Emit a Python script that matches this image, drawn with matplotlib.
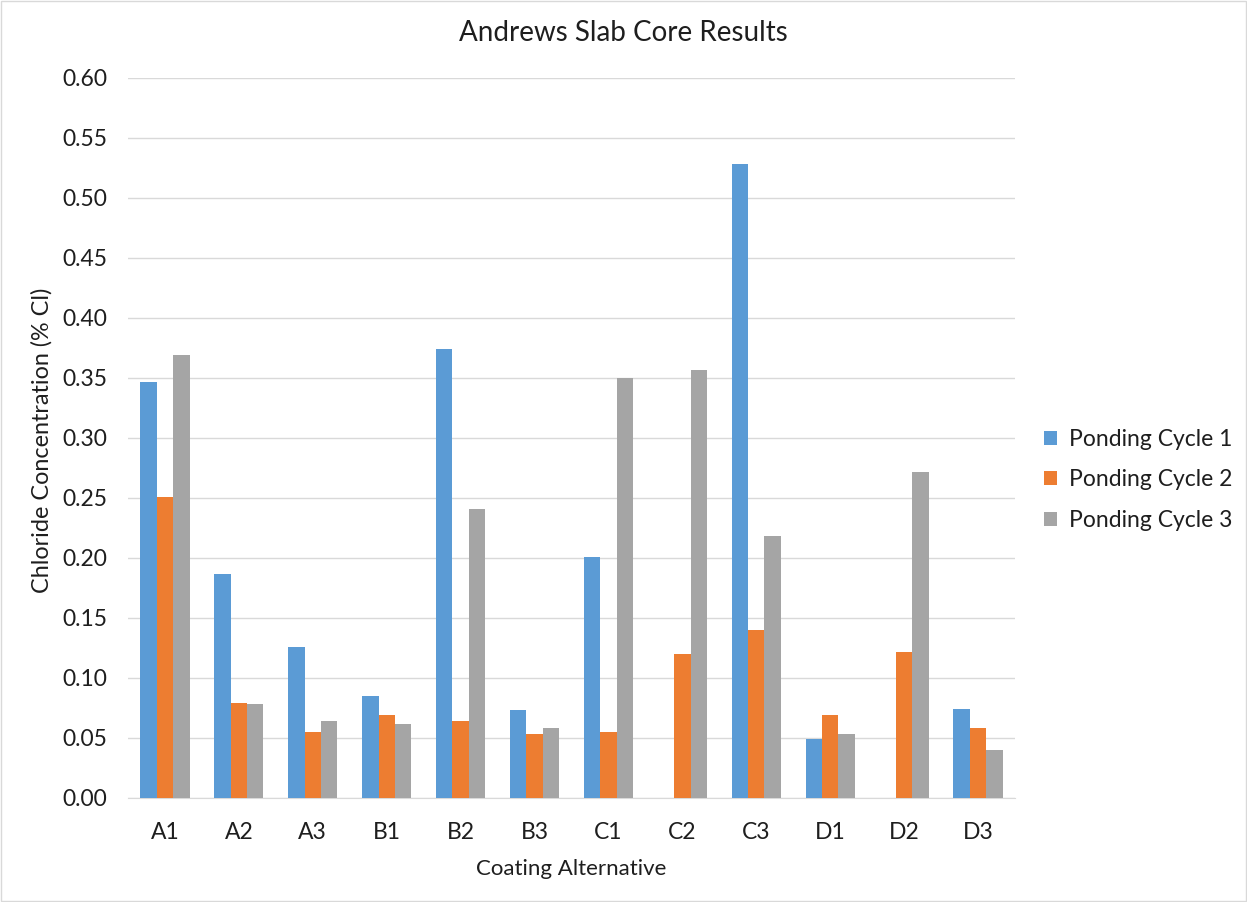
import matplotlib.pyplot as plt
import numpy as np
from matplotlib.patches import Rectangle

plt.rcParams['font.family'] = ['Lato', 'DejaVu Sans']

categories = ['A1', 'A2', 'A3', 'B1', 'B2', 'B3', 'C1', 'C2', 'C3', 'D1', 'D2', 'D3']
cycle1 = [0.347, 0.187, 0.126, 0.085, 0.374, 0.073, 0.201, 0.0, 0.528, 0.049, 0.0, 0.074]
cycle2 = [0.251, 0.079, 0.055, 0.069, 0.064, 0.053, 0.055, 0.120, 0.140, 0.069, 0.122, 0.058]
cycle3 = [0.369, 0.078, 0.064, 0.062, 0.241, 0.058, 0.350, 0.357, 0.218, 0.053, 0.272, 0.040]
series_names = ['Ponding Cycle 1', 'Ponding Cycle 2', 'Ponding Cycle 3']
colors = ['#5B9BD5', '#ED7D31', '#A5A5A5']
text_color = '#1E1E1E'

W, H = 1247, 902
fig = plt.figure(figsize=(W / 100, H / 100), dpi=100)
ax = fig.add_axes([128 / W, 1 - 798 / H, 887 / W, 720 / H])

x = np.arange(len(categories))
width = 0.222
for i, (vals, name, c) in enumerate(zip([cycle1, cycle2, cycle3], series_names, colors)):
    ax.bar(x + (i - 1) * width, vals, width, color=c, label=name, zorder=3)

ax.set_xlim(-0.5, len(categories) - 0.5)
ax.set_ylim(0, 0.60)
yt = np.arange(0, 0.601, 0.05)
ax.set_yticks(yt)
ax.set_yticklabels(['%.2f' % v for v in yt])
ax.set_xticks(x)
ax.set_xticklabels(categories)
ax.yaxis.grid(True, color='#D9D9D9', linewidth=1, zorder=0)
for s in ['top', 'right', 'left']:
    ax.spines[s].set_visible(False)
ax.spines['bottom'].set_color('#D9D9D9')
ax.tick_params(axis='y', length=0, labelsize=16.5, colors=text_color, pad=15)
ax.tick_params(axis='x', length=0, labelsize=16.5, colors=text_color, pad=17)

fig.text(623 / W, 1 - 33 / H, 'Andrews Slab Core Results', fontsize=20,
         color=text_color, ha='center', va='center')
fig.text(571 / W, 1 - 869 / H, 'Coating Alternative', fontsize=16,
         color=text_color, ha='center', va='center')
fig.text(42 / W, 1 - 440 / H, 'Chloride Concentration (% Cl)', fontsize=16.8,
         color=text_color, ha='center', va='center', rotation=90)

ax.legend(loc='center left', bbox_to_anchor=(1033 / W, 1 - 480 / H),
          bbox_transform=fig.transFigure, frameon=False, fontsize=16.5,
          handlelength=0.55, handleheight=0.55, handletextpad=0.5, labelspacing=0.85,
          labelcolor=text_color, borderpad=0)

fig.patches.append(Rectangle((0.001, 0.001), 0.998, 0.998, transform=fig.transFigure,
                             fill=False, edgecolor='#D9D9D9', linewidth=1))

fig.savefig('out.png', dpi=100)
